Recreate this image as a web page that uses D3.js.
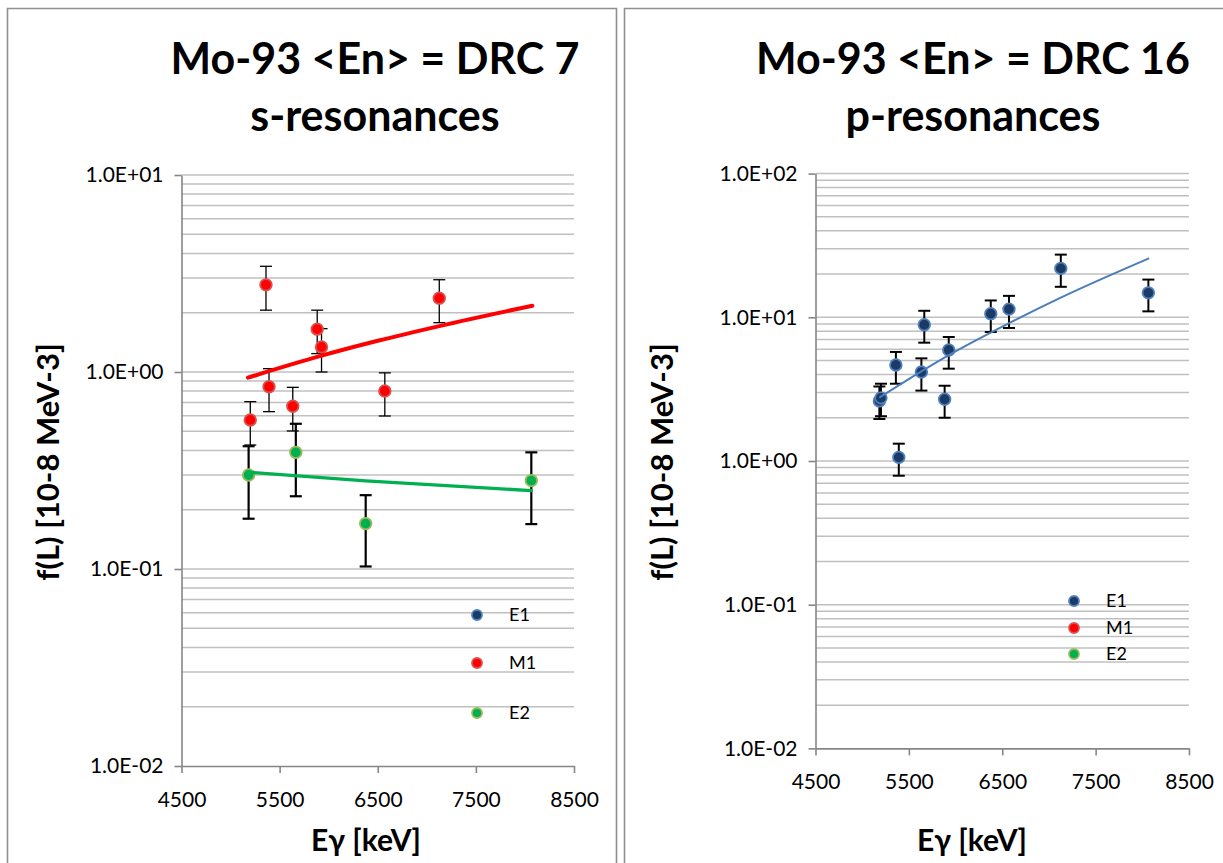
<!DOCTYPE html>
<html><head><meta charset="utf-8">
<script src="https://cdn.jsdelivr.net/npm/d3@7"></script>
<style>
html,body{margin:0;padding:0;background:#fff;}
svg{display:block;font-family:Lato,"Open Sans",sans-serif;}
</style></head><body>
<svg id="c" width="1223" height="863"></svg>
<script>
// ---------- data ----------
const xTicks = [4500, 5500, 6500, 7500, 8500];
const leftYTicks = [0.01, 0.1, 1, 10];
const leftYTickLabels = ["1.0E-02", "1.0E-01", "1.0E+00", "1.0E+01"];
const rightYTicks = [0.01, 0.1, 1, 10, 100];
const rightYTickLabels = ["1.0E-02", "1.0E-01", "1.0E+00", "1.0E+01", "1.0E+02"];
const legendNames = ["E1", "M1", "E2"];

// left panel: s-resonances
const m1Energy = [5201, 5361, 5392, 5634, 5883, 5927, 6572, 7127];
const m1Value  = [0.571, 2.77, 0.842, 0.67, 1.65, 1.34, 0.801, 2.37];
const m1Low    = [0.426, 2.06, 0.629, 0.502, 1.24, 1.0, 0.598, 1.78];
const m1High   = [0.707, 3.44, 1.04, 0.836, 2.06, 1.66, 0.99, 2.94];
const e2Energy = [5184, 5665, 6377, 8065];
const e2Value  = [0.30, 0.391, 0.17, 0.281];
const e2Low    = [0.18, 0.234, 0.103, 0.169];
const e2High   = [0.42, 0.546, 0.237, 0.391];
const m1TrendE = [5177, 5927, 6500, 7127, 8075];
const m1TrendV = [0.936, 1.21, 1.44, 1.71, 2.17];
const e2TrendE = [5184, 6377, 8065];
const e2TrendV = [0.31, 0.28, 0.25];

// right panel: p-resonances
const e1Energy = [5184, 5201, 5361, 5392, 5634, 5665, 5883, 5927, 6377, 6572, 7127, 8065];
const e1Value  = [2.62, 2.75, 4.66, 1.06, 4.16, 8.88, 2.69, 5.92, 10.6, 11.4, 21.9, 14.8];
const e1Low    = [1.96, 2.05, 3.45, 0.79, 3.09, 6.66, 2.0, 4.39, 7.9, 8.43, 16.3, 11.0];
const e1High   = [3.30, 3.45, 5.74, 1.32, 5.18, 11.1, 3.34, 7.29, 13.1, 14.1, 27.3, 18.3];
const e1TrendE = [5191, 5634, 5927, 6572, 7127, 8065];
const e1TrendV = [2.78, 4.2, 5.45, 9.1, 13.7, 25.6];

// ---------- styles ----------
const seriesStyle = {
  E1: {fill: "#1c3a66", stroke: "#4f81bd"},
  M1: {fill: "#ff0000", stroke: "#d9534f"},
  E2: {fill: "#00b050", stroke: "#9bbb59"}
};
const gridColor = "#c0c0c0", axisColor = "#868686";

const svg = d3.select("#c");

// panel frames
svg.append("path").attr("d", "M7.5,870V8.5H616.5V870")
  .attr("fill", "none").attr("stroke", "#8f8f8f").attr("stroke-width", 1.6);
svg.append("path").attr("d", "M624.5,870V8.5H1240")
  .attr("fill", "none").attr("stroke", "#8f8f8f").attr("stroke-width", 1.6);

function drawPanel(cfg) {
  const g = svg.append("g");
  const x = d3.scaleLinear().domain([4500, 8500]).range(cfg.xRange);
  const y = d3.scaleLog().domain([cfg.yTicks[0], cfg.yTicks[cfg.yTicks.length - 1]]).range(cfg.yRange);

  // gridlines (major + minor)
  const grid = [];
  for (let i = 0; i < cfg.yTicks.length - 1; i++) {
    for (let k = 1; k <= 9; k++) grid.push(cfg.yTicks[i] * k);
  }
  grid.push(cfg.yTicks[cfg.yTicks.length - 1]);
  g.append("g").selectAll("line").data(grid.filter(v => v > cfg.yTicks[0]))
    .join("line")
    .attr("x1", cfg.xRange[0]).attr("x2", cfg.xRange[1])
    .attr("y1", d => y(d)).attr("y2", d => y(d))
    .attr("stroke", gridColor).attr("stroke-width", 1.5);

  // axes
  const ya = g.append("g").attr("transform", `translate(${cfg.xRange[0]},0)`)
    .call(d3.axisLeft(y).tickValues(cfg.yTicks).tickSizeInner(7).tickSizeOuter(0).tickPadding(11)
      .tickFormat((d, i) => cfg.yLabels[i]));
  const xa = g.append("g").attr("transform", `translate(0,${cfg.yRange[0]})`)
    .call(d3.axisBottom(x).tickValues(xTicks).tickSizeInner(7).tickSizeOuter(0).tickPadding(19)
      .tickFormat(d3.format("d")));
  [ya, xa].forEach(a => {
    a.select(".domain").attr("stroke", axisColor).attr("stroke-width", 1.6);
    a.selectAll(".tick line").attr("stroke", axisColor).attr("stroke-width", 1.6);
    a.selectAll("text").attr("fill", "#000").style("font-size", "21px").style("font-family", "Lato");
  });

  // error bars
  cfg.series.forEach(s => {
    const eg = g.append("g");
    s.e.forEach((e, i) => {
      const cx = x(e);
      eg.append("line").attr("x1", cx).attr("x2", cx).attr("y1", y(s.lo[i])).attr("y2", y(s.hi[i]))
        .attr("stroke", "#000").attr("stroke-width", s.ew);
      [s.lo[i], s.hi[i]].forEach(v => {
        eg.append("line").attr("x1", cx - 6).attr("x2", cx + 6).attr("y1", y(v)).attr("y2", y(v))
          .attr("stroke", "#000").attr("stroke-width", s.ew);
      });
    });
  });
  // markers
  cfg.series.forEach(s => {
    const st = seriesStyle[s.name];
    g.append("g").selectAll("circle").data(s.e.map((e, i) => [e, s.v[i]]))
      .join("circle")
      .attr("cx", d => x(d[0])).attr("cy", d => y(d[1])).attr("r", 5.8)
      .attr("fill", st.fill).attr("stroke", st.stroke).attr("stroke-width", 1.8);
  });
  // trend lines
  const line = d3.line().x(d => x(d[0])).y(d => y(d[1])).curve(d3.curveMonotoneX);
  cfg.trends.forEach(t => {
    g.append("path").attr("d", line(t.e.map((e, i) => [e, t.v[i]])))
      .attr("fill", "none").attr("stroke", t.color).attr("stroke-width", t.w).attr("stroke-linecap", "round");
  });

  // legend
  legendNames.forEach((n, i) => {
    const ly = cfg.legend.y[i];
    const st = seriesStyle[n];
    g.append("circle").attr("cx", cfg.legend.x).attr("cy", ly).attr("r", 5)
      .attr("fill", st.fill).attr("stroke", st.stroke).attr("stroke-width", 1.8);
    g.append("text").attr("x", cfg.legend.x + 32).attr("y", ly).attr("dy", "0.36em")
      .style("font-size", "18px").text(n);
  });

  // titles
  const t = g.append("text").attr("text-anchor", "middle").style("font-weight", "bold").style("font-size", "43px");
  t.append("tspan").attr("x", cfg.title.x).attr("y", 74).text(cfg.title.l1);
  t.append("tspan").attr("x", cfg.title.x).attr("y", 131).text(cfg.title.l2);

  g.append("text").attr("x", cfg.xTitle.x).attr("y", 851).attr("text-anchor", "middle")
    .style("font-weight", "bold").style("font-size", "30px").text("Eγ [keV]");
  g.append("text").attr("transform", `translate(${cfg.yTitle.x},${cfg.yTitle.y}) rotate(-90)`)
    .attr("text-anchor", "middle").attr("dy", "0.35em")
    .style("font-weight", "bold").style("font-size", "31px").text("f(L) [10-8 MeV-3]");
}

drawPanel({
  xRange: [181.5, 574], yRange: [766, 175],
  yTicks: leftYTicks, yLabels: leftYTickLabels,
  series: [
    {name: "M1", e: m1Energy, v: m1Value, lo: m1Low, hi: m1High, ew: 1.3},
    {name: "E2", e: e2Energy, v: e2Value, lo: e2Low, hi: e2High, ew: 2.2}
  ],
  trends: [
    {e: m1TrendE, v: m1TrendV, color: "#ff0000", w: 4},
    {e: e2TrendE, v: e2TrendV, color: "#00b050", w: 3.3}
  ],
  legend: {x: 477, y: [615, 663, 713]},
  title: {x: 375, l1: "Mo-93 <En> = DRC 7", l2: "s-resonances"},
  xTitle: {x: 366}, yTitle: {x: 48, y: 462}
});

drawPanel({
  xRange: [815.5, 1189], yRange: [748.4, 173.6],
  yTicks: rightYTicks, yLabels: rightYTickLabels,
  series: [
    {name: "E1", e: e1Energy, v: e1Value, lo: e1Low, hi: e1High, ew: 2}
  ],
  trends: [
    {e: e1TrendE, v: e1TrendV, color: "#4a7ebb", w: 2}
  ],
  legend: {x: 1074, y: [601, 628, 654]},
  title: {x: 973, l1: "Mo-93 <En> = DRC 16", l2: "p-resonances"},
  xTitle: {x: 972}, yTitle: {x: 662, y: 462}
});
</script>
</body></html>
